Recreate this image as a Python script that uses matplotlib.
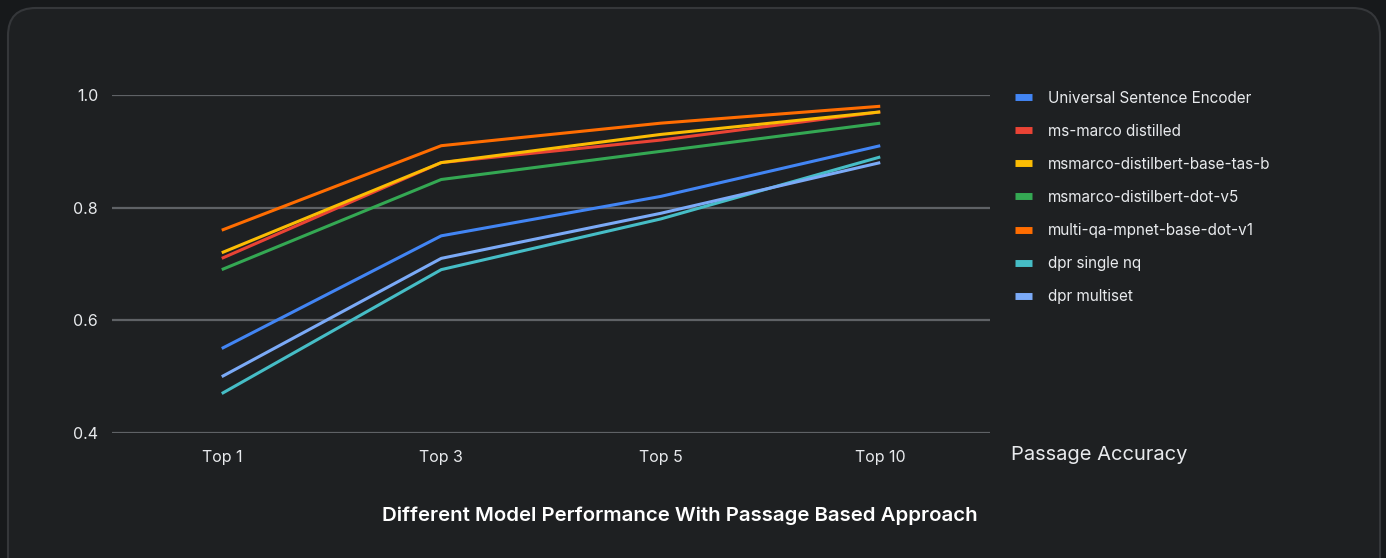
import matplotlib
matplotlib.use("Agg")
import matplotlib.pyplot as plt
from matplotlib.lines import Line2D
from matplotlib.patches import FancyBboxPatch

categories = ["Top 1", "Top 3", "Top 5", "Top 10"]
series_names = [
    "Universal Sentence Encoder",
    "ms-marco distilled",
    "msmarco-distilbert-base-tas-b",
    "msmarco-distilbert-dot-v5",
    "multi-qa-mpnet-base-dot-v1",
    "dpr single nq",
    "dpr multiset",
]
use_vals = [0.55, 0.75, 0.82, 0.91]
msmarco_distilled = [0.71, 0.88, 0.92, 0.97]
tas_b = [0.72, 0.88, 0.93, 0.97]
dot_v5 = [0.69, 0.85, 0.90, 0.95]
mpnet = [0.76, 0.91, 0.95, 0.98]
dpr_single = [0.47, 0.69, 0.78, 0.89]
dpr_multi = [0.50, 0.71, 0.79, 0.88]
y_ticks = [0.4, 0.6, 0.8, 1.0]

all_vals = [use_vals, msmarco_distilled, tas_b, dot_v5, mpnet, dpr_single, dpr_multi]
colors = ["#4285f4", "#ea4335", "#fbbc04", "#34a853", "#ff6d01", "#46bdc6", "#7baaf7"]

plt.rcParams['font.family'] = ['Inter', 'DejaVu Sans']
W, H = 1386, 558
fig = plt.figure(figsize=(W / 100, H / 100), dpi=100)
fig.patch.set_facecolor("#17191b")

card = FancyBboxPatch((8 / W, -0.05), (1380 - 8) / W, (H - 8) / H + 0.05,
                      boxstyle="round,pad=0,rounding_size=0.02",
                      transform=fig.transFigure, facecolor="#1e2022",
                      edgecolor="#35373a", linewidth=1.5, mutation_aspect=W / H,
                      zorder=-10)
fig.patches.append(card)

def fx(px):
    return px / W

def fy(py):
    return 1 - py / H

ax = fig.add_axes([fx(112), fy(433), fx(990) - fx(112), fy(95) - fy(433)])
ax.set_facecolor("none")
ax.set_zorder(5)
x = list(range(len(categories)))
for name, vals, c in zip(series_names, all_vals, colors):
    ax.plot(x, vals, color=c, lw=2.2, label=name, clip_on=False, solid_capstyle='butt')

ax.set_xlim(-0.5, 3.5)
ax.set_ylim(0.4, 1.0)
ax.set_yticks(y_ticks)
ax.set_yticklabels([f"{v:.1f}" for v in y_ticks])
ax.set_xticks(x)
ax.set_xticklabels(categories)
ax.grid(axis='y', color="#5f6266", lw=1.6)
ax.set_axisbelow(True)
for s in ax.spines.values():
    s.set_visible(False)
ax.tick_params(axis='both', length=0, colors="#e8eaed", labelsize=11.5)
ax.tick_params(axis='x', pad=12)
ax.tick_params(axis='y', pad=10)

handles = [Line2D([0], [0], color=c, lw=5, solid_capstyle='butt') for c in colors]
leg = fig.legend(handles, series_names, loc='upper left',
                 bbox_to_anchor=(fx(1001), fy(77)), frameon=False,
                 fontsize=11, labelcolor="#e8eaed", handlelength=1.15,
                 handletextpad=1.0, labelspacing=1.18)

fig.text(fx(1011), fy(455), "Passage Accuracy", color="#e8eaed", fontsize=14.5,
         va='center', ha='left')
fig.text(fx(680), fy(516), "Different Model Performance With Passage Based Approach",
         color="#ffffff", fontsize=14.7, fontweight='semibold', va='center', ha='center')

fig.savefig("out.png", dpi=100, facecolor=fig.get_facecolor())
